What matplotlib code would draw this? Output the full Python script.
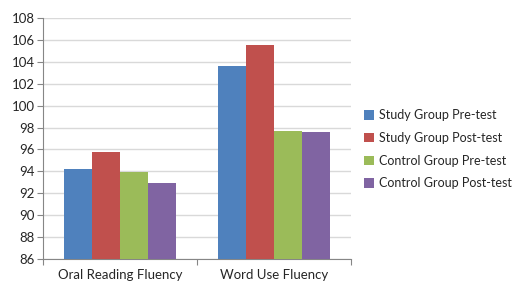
import numpy as np
import matplotlib.pyplot as plt

plt.rcParams['font.family'] = ['Lato', 'DejaVu Sans']

#### data
categories = ["Oral Reading Fluency", "Word Use Fluency"]
series_names = ["Study Group Pre-test", "Study Group Post-test",
                "Control Group Pre-test", "Control Group Post-test"]
study_pre = [94.2, 103.6]
study_post = [95.8, 105.5]
control_pre = [93.9, 97.7]
control_post = [92.9, 97.6]
yticks = np.arange(86, 109, 2)

colors = ["#4F81BD", "#C0504D", "#9BBB59", "#8064A2"]
axis_col = "#868686"

fig = plt.figure(figsize=(5.17, 2.88), dpi=100)
ax = fig.add_axes([0.0832, 0.1007, 0.5948, 0.8368])

x = np.arange(len(categories))
w = 0.182
all_series = [study_pre, study_post, control_pre, control_post]
for i, (vals, name) in enumerate(zip(all_series, series_names)):
    ax.bar(x + (i - 1.5) * w, np.array(vals) - 86, width=w, bottom=86,
           color=colors[i], label=name, zorder=3)

ax.set_xlim(-0.5, 1.5)
ax.set_ylim(86, 108)
ax.set_yticks(yticks)
ax.yaxis.grid(True, color="#D9D9D9", linewidth=1, zorder=0)
ax.set_xticks([-0.5, 0.5, 1.5])
ax.set_xticklabels([])
ax.set_xticks(x, minor=True)
ax.set_xticklabels(categories, minor=True)
ax.tick_params(axis='x', which='minor', length=0, pad=7, labelsize=9.5, colors="#262626")
ax.tick_params(axis='x', which='major', length=4, color=axis_col)
ax.tick_params(axis='y', length=4, color=axis_col, labelsize=9.5, labelcolor="#262626", pad=2)

for s in ["top", "right"]:
    ax.spines[s].set_visible(False)
for s in ["left", "bottom"]:
    ax.spines[s].set_color(axis_col)

ax.legend(loc="center left", bbox_to_anchor=(1.045, 0.455), frameon=False,
          borderaxespad=0, borderpad=0,
          fontsize=9, handlelength=0.75, handleheight=0.75, handletextpad=0.4,
          labelspacing=0.85, labelcolor="#262626")

plt.savefig("out.png", dpi=100)
